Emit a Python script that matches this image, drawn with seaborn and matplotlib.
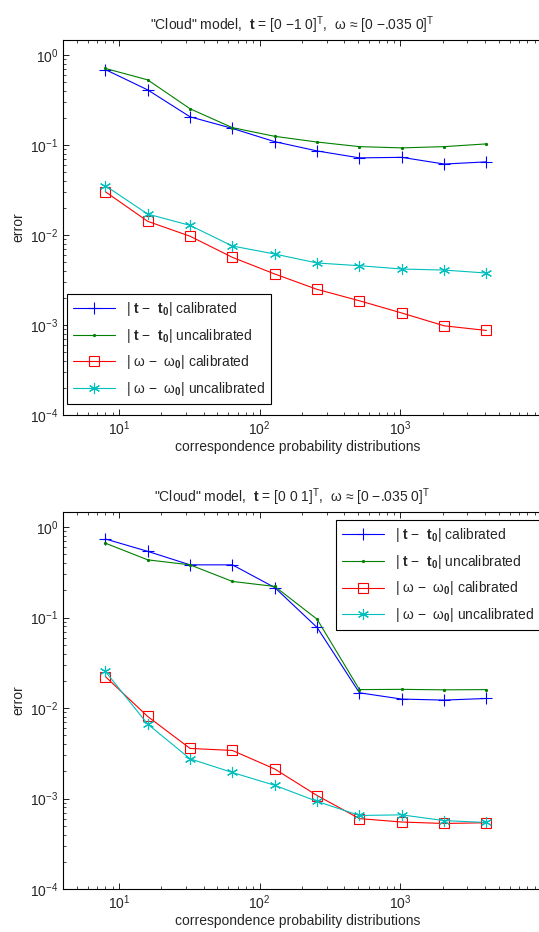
import seaborn as sns
import pandas as pd
import matplotlib.pyplot as plt
import numpy as np

# number of correspondence probability distributions
n_dist = [8, 16, 32, 64, 128, 256, 512, 1024, 2048, 4096]

# top panel: t = [0 -1 0]^T
top_t_cal = [0.69, 0.41, 0.206, 0.153, 0.109, 0.086, 0.072, 0.073, 0.0615, 0.065]
top_t_uncal = [0.71, 0.53, 0.253, 0.156, 0.125, 0.108, 0.096, 0.093, 0.096, 0.103]
top_w_cal = [0.0303, 0.0142, 0.0097, 0.00565, 0.00369, 0.00249, 0.00186, 0.00136, 0.00098, 0.00087]
top_w_uncal = [0.0353, 0.0171, 0.0128, 0.00755, 0.00615, 0.00489, 0.00456, 0.00419, 0.00408, 0.00378]

# bottom panel: t = [0 0 1]^T
bot_t_cal = [0.74, 0.54, 0.383, 0.383, 0.215, 0.0778, 0.01475, 0.01257, 0.01225, 0.01277]
bot_t_uncal = [0.665, 0.435, 0.383, 0.251, 0.221, 0.096, 0.016, 0.0161, 0.0159, 0.016]
bot_w_cal = [0.0223, 0.00807, 0.00358, 0.0034, 0.00212, 0.00108, 0.0006, 0.00055, 0.00053, 0.00054]
bot_w_uncal = [0.0254, 0.00665, 0.00275, 0.00194, 0.0014, 0.00093, 0.00065, 0.00066, 0.00057, 0.000544]

labels = [r'| $\mathbf{t}$ −  $\mathbf{t}_\mathbf{0}$| calibrated',
          r'| $\mathbf{t}$ −  $\mathbf{t}_\mathbf{0}$| uncalibrated',
          r'| $\mathrm{\omega}$ −  $\mathrm{\omega}_\mathbf{0}$| calibrated',
          r'| $\mathrm{\omega}$ −  $\mathrm{\omega}_\mathbf{0}$| uncalibrated']
colors = ["#0000ff", "#008000", "#ff0000", "#00bfbf"]
markers = ["+", ".", "s", (6, 2, 0)]  # last one = asterisk
msizes = [9, 3, 7, 8]

titles = [r'"Cloud" model,  $\mathbf{t}$ = [0 −1 0]$^\mathrm{T}$,  $\mathrm{\omega}$ ≈ [0 −.035 0]$^\mathrm{T}$',
          r'"Cloud" model,  $\mathbf{t}$ = [0 0 1]$^\mathrm{T}$,  $\mathrm{\omega}$ ≈ [0 −.035 0]$^\mathrm{T}$']

sns.set_theme(style="ticks")
plt.rcParams['font.family'] = ['Liberation Sans', 'DejaVu Sans']
plt.rcParams['mathtext.fontset'] = 'custom'
plt.rcParams['mathtext.rm'] = 'Liberation Sans'
plt.rcParams['mathtext.it'] = 'Liberation Sans:italic'
plt.rcParams['mathtext.bf'] = 'Liberation Sans:bold'
plt.rcParams['font.size'] = 10
plt.rcParams['axes.linewidth'] = 0.8
plt.rcParams['xtick.direction'] = 'in'
plt.rcParams['ytick.direction'] = 'in'
plt.rcParams['xtick.top'] = True
plt.rcParams['ytick.right'] = False

fig = plt.figure(figsize=(5.39, 9.32), dpi=100)
ax1 = fig.add_axes([63 / 539, 1 - 415 / 932, 478 / 539, 375 / 932])
ax2 = fig.add_axes([63 / 539, 1 - 889 / 932, 478 / 539, 377 / 932])

panels = [(ax1, [top_t_cal, top_t_uncal, top_w_cal, top_w_uncal]),
          (ax2, [bot_t_cal, bot_t_uncal, bot_w_cal, bot_w_uncal])]

for i, (ax, series) in enumerate(panels):
    for vals, lab, c, m, ms in zip(series, labels, colors, markers, msizes):
        df = pd.DataFrame({"n": n_dist, "err": vals})
        sns.lineplot(data=df, x="n", y="err", ax=ax, color=c, marker=m, markersize=ms,
                     mec=c, mfc="none" if m == "s" else c, markeredgewidth=0.8,
                     linewidth=0.8, errorbar=None, label=lab)
    ax.set(xscale="log", yscale="log")
    ax.set_xlim(4, 1e4)
    ax.set_ylim(1e-4, 1.47)
    ax.set_xticks([10, 100, 1000, 10000])
    ax.set_xticklabels([r"$\mathdefault{10^{1}}$", r"$\mathdefault{10^{2}}$",
                        r"$\mathdefault{10^{3}}$", ""])
    ax.set_xlim(4, 1e4)
    ax.set_xlabel("correspondence probability distributions", fontsize=10, x=0.49, labelpad=1)
    ax.set_ylabel("error", fontsize=10, labelpad=3)
    ax.set_title(titles[i], fontsize=10, x=0.48, pad=7)
    ax.tick_params(which="major", length=4, width=0.6, labelsize=10, color="black")
    ax.tick_params(which="minor", length=2.2, width=0.5, color="black")
    for s in ax.spines.values():
        s.set_color("black")
    handles, labs = ax.get_legend_handles_labels()
    if i == 0:
        leg = ax.legend(handles, labs, loc="lower left", bbox_to_anchor=(0.008, 0.029),
                        borderaxespad=0, fontsize=10, handlelength=3.0, fancybox=False,
                        framealpha=1, edgecolor="black", borderpad=0.45, labelspacing=0.62)
    else:
        leg = ax.legend(handles, labs, loc="upper left", bbox_to_anchor=(0.571, 0.979),
                        borderaxespad=0, fontsize=10, handlelength=3.0, fancybox=False,
                        framealpha=1, edgecolor="black", borderpad=0.45, labelspacing=0.62)
    leg.get_frame().set_linewidth(0.8)

plt.savefig("out.png", dpi=100)
